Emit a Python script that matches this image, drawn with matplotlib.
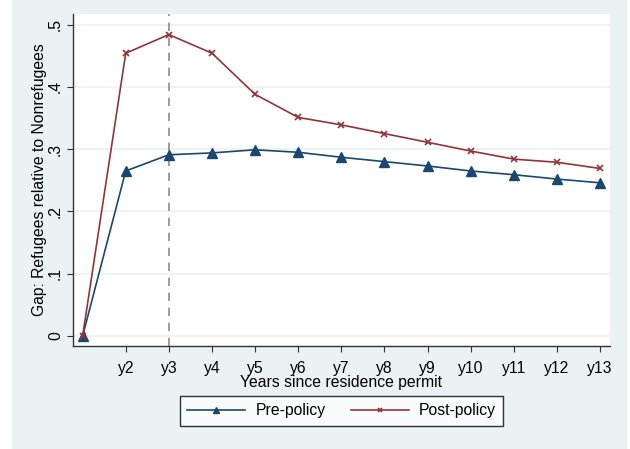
import numpy as np
import matplotlib.pyplot as plt
from matplotlib.patches import Rectangle

plt.rcParams['font.family'] = ['Liberation Sans', 'DejaVu Sans']

years = np.arange(1, 14)
xticklabels = ["y%d" % k for k in range(2, 14)]
pre_policy = [0.0, 0.265, 0.291, 0.294, 0.299, 0.295, 0.287, 0.280, 0.273, 0.265, 0.259, 0.252, 0.246]
post_policy = [0.0, 0.454, 0.484, 0.454, 0.388, 0.351, 0.339, 0.325, 0.311, 0.297, 0.284, 0.279, 0.269]
yticks = [0, 0.1, 0.2, 0.3, 0.4, 0.5]
yticklabels = ["0", ".1", ".2", ".3", ".4", ".5"]

navy = "#1a476f"
maroon = "#90353b"
bg = "#eaf2f3"
fs = 11.3

fig = plt.figure(figsize=(6.3, 4.49), dpi=100)
fig.patch.set_facecolor("white")
fig.patches.append(Rectangle((12/630, 0), 615/630, 1, transform=fig.transFigure,
                             facecolor=bg, edgecolor="none", zorder=-10))

ax = fig.add_axes([72.7/630, 1 - 346/449, (610 - 72.7)/630, (346 - 14)/449])
ax.set_facecolor("white")

ax.axvline(3, color="#8c8c8c", linestyle=(0, (5, 4)), linewidth=1.2, zorder=1)
ax.plot(years, pre_policy, color=navy, linewidth=1.2, marker="^", markersize=6.5,
        label="Pre-policy", zorder=3)
ax.plot(years, post_policy, color=maroon, linewidth=1.2, marker="x", markersize=5,
        markeredgewidth=1.2, label="Post-policy", zorder=3)

ax.set_xlim(0.77, 13.23)
ax.set_ylim(-0.016, 0.517)
ax.set_xticks(years[1:])
ax.set_xticklabels(xticklabels, fontsize=fs)
ax.set_yticks(yticks)
ax.set_yticklabels(yticklabels, fontsize=fs, rotation=90, va="center")
ax.grid(axis="y", color=bg, linewidth=1.2)
ax.set_axisbelow(True)
ax.tick_params(direction="out", length=4, width=0.8, colors="#333333", labelcolor="black")
ax.tick_params(axis="x", pad=7)
ax.tick_params(axis="y", pad=3)

for side in ["top", "right"]:
    ax.spines[side].set_visible(False)
for side in ["left", "bottom"]:
    ax.spines[side].set_color("#333333")
    ax.spines[side].set_linewidth(1.0)

ax.set_xlabel("Years since residence permit", fontsize=fs, labelpad=-1)
ax.set_ylabel("Gap: Refugees relative to Nonrefugees", fontsize=fs, labelpad=1)

leg = fig.legend(loc="center", bbox_to_anchor=(341.5/630, 1 - 411/449), ncol=2,
                 fontsize=fs, frameon=True, fancybox=False, edgecolor="black",
                 handlelength=3.7, handletextpad=0.65, columnspacing=1.6,
                 borderpad=0.45, borderaxespad=0, markerscale=0.7)
leg.get_frame().set_linewidth(1.0)

fig.savefig("out.png", dpi=100)
